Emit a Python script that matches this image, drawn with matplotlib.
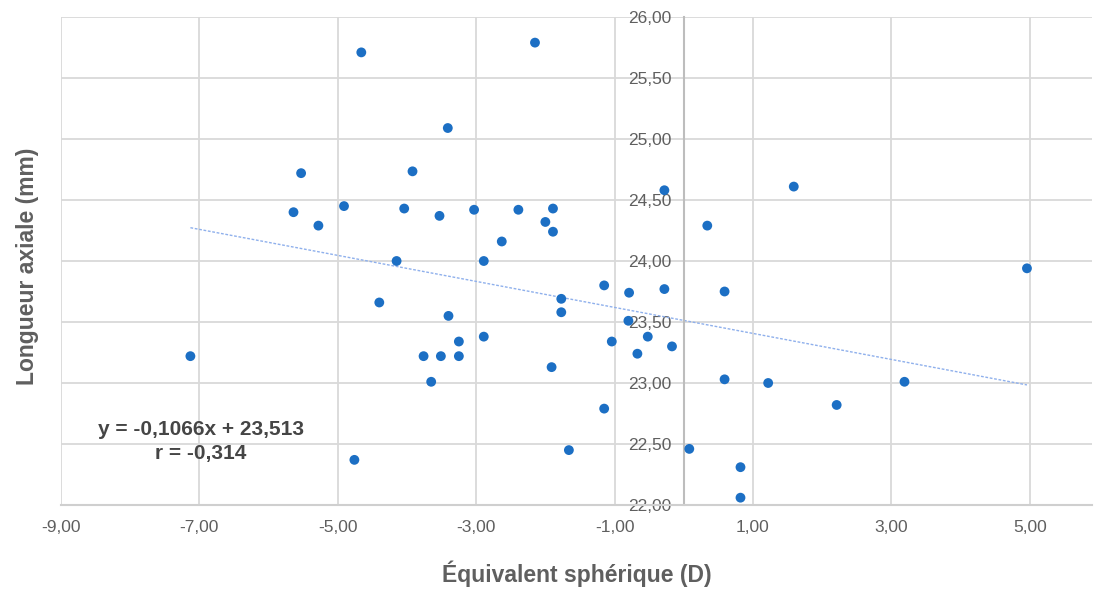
"""
Nuage de points : longueur axiale vs équivalent sphérique
"""

import numpy as np
import matplotlib
matplotlib.use('Agg')
import matplotlib.pyplot as plt
from matplotlib.ticker import FuncFormatter, MultipleLocator, FixedLocator

plt.rcParams['font.family'] = ['Liberation Sans', 'DejaVu Sans']

# données
eq_spherique = [-7.13, -4.66, -2.15, -3.41, -5.53, -3.92, -5.64, -5.28, -4.91, -4.04,
                -3.53, -3.03, -2.39, -2.00, -1.89, -1.89, -2.63, -4.15, -2.89, -0.28,
                0.34, 1.59, 4.96, -1.15, -0.79, -0.28, 0.59, -1.77, -1.77, -1.91,
                -1.04, -0.52, -0.17, -0.67, -0.80, 0.59, 1.22, 3.19, 2.21, -1.15,
                -1.66, 0.08, 0.82, 0.82, -4.40, -3.40, -3.25, -3.76, -3.51, -3.25,
                -3.65, -2.89, -4.76]
longueur_axiale = [23.22, 25.71, 25.79, 25.09, 24.72, 24.735, 24.40, 24.29, 24.45, 24.43,
                   24.37, 24.42, 24.42, 24.32, 24.43, 24.24, 24.16, 24.00, 24.00, 24.58,
                   24.29, 24.61, 23.94, 23.80, 23.74, 23.77, 23.75, 23.69, 23.58, 23.13,
                   23.34, 23.38, 23.30, 23.24, 23.51, 23.03, 23.00, 23.01, 22.82, 22.79,
                   22.45, 22.46, 22.31, 22.06, 23.66, 23.55, 23.34, 23.22, 23.22, 23.22,
                   23.01, 23.38, 22.37]

x_ticks = [-9, -7, -5, -3, -1, 1, 3, 5]

# droite de tendance donnée sur le graphique
pente = -0.1066
ordonnee = 23.513
equation = "y = -0,1066x + 23,513"
coef_r = "r = -0,314"

x = np.array(eq_spherique)
y = np.array(longueur_axiale)

fig = plt.figure(figsize=(10.94, 5.92), dpi=100)
ax = fig.add_axes([61 / 1094, 1 - 505 / 592, 1031 / 1094, 488 / 592])

grey_grid = '#d9d9d9'
grey_text = '#5f5f5f'

ax.scatter(x, y, s=50, color='#1c6fc4', edgecolors='none', zorder=3)

xt = np.array([x.min(), x.max()])
ax.plot(xt, pente * xt + ordonnee, color='#8fb0ec', lw=1.0,
        linestyle=(0, (2, 1.2)), zorder=2)

ax.set_xlim(-9, 5.9)
ax.set_ylim(22, 26)
ax.xaxis.set_major_locator(FixedLocator(x_ticks))
ax.yaxis.set_major_locator(MultipleLocator(0.5))

fmt = FuncFormatter(lambda v, p: f"{v:.2f}".replace('.', ','))
ax.xaxis.set_major_formatter(fmt)
ax.yaxis.set_major_formatter(fmt)

ax.grid(True, color=grey_grid, lw=1.3)
ax.set_axisbelow(True)

for s in ['top', 'right']:
    ax.spines[s].set_visible(False)
ax.spines['bottom'].set_color('#cfcfcf')
ax.spines['bottom'].set_linewidth(1.5)
ax.spines['left'].set_position(('data', 0))
ax.spines['left'].set_color('#bdbdbd')
ax.spines['left'].set_linewidth(1.5)

ax.tick_params(axis='both', length=0, labelsize=12.5, labelcolor=grey_text)
ax.tick_params(axis='x', pad=11)
ax.tick_params(axis='y', pad=9)

ax.set_xlabel("Équivalent sphérique (D)", fontsize=16.5, fontweight='bold', color=grey_text)
ax.set_ylabel("Longueur axiale (mm)", fontsize=16.5, fontweight='bold', color=grey_text)
ax.xaxis.set_label_coords(0.5, -0.113)
ax.yaxis.set_label_coords(-0.021, 0.49)

ax.text(-6.98, 22.62, equation, ha='center', va='center', fontsize=15,
        fontweight='bold', color='#454545')
ax.text(-6.98, 22.42, coef_r, ha='center', va='center', fontsize=15,
        fontweight='bold', color='#454545')

fig.savefig('out.png', dpi=100)
